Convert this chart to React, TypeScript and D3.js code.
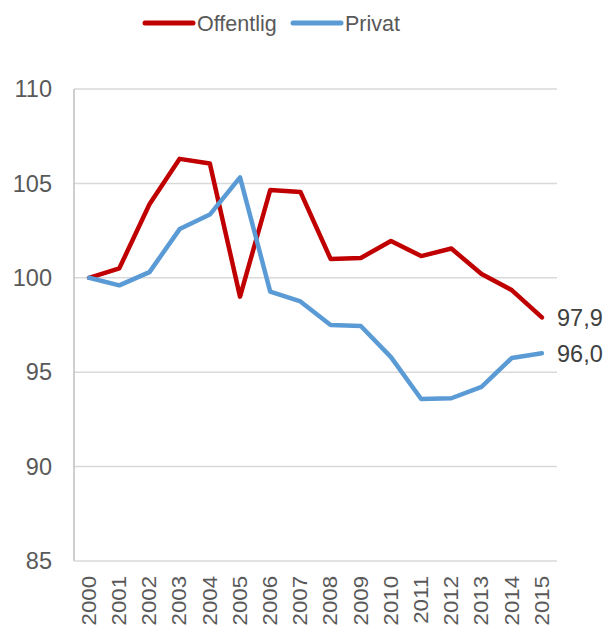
import React, { useEffect, useRef } from 'react';
import * as d3 from 'd3';

const years = ['2000', '2001', '2002', '2003', '2004', '2005', '2006', '2007', '2008', '2009', '2010', '2011', '2012', '2013', '2014', '2015'];
const offentlig = [100, 100.5, 103.9, 106.3, 106.05, 99.0, 104.65, 104.55, 101.0, 101.05, 101.95, 101.15, 101.55, 100.2, 99.35, 97.9];
const privat = [100, 99.6, 100.3, 102.58, 103.35, 105.32, 99.27, 98.75, 97.5, 97.45, 95.8, 93.58, 93.62, 94.22, 95.75, 96.0];
const yTicks = [85, 90, 95, 100, 105, 110];

const App = () => {
  const svgRef = useRef<SVGSVGElement>(null);

  useEffect(() => {
    const svg = d3.select(svgRef.current);
    svg.selectAll('*').remove();

    const width = 605;
    const height = 626;
    const margin = { top: 89, right: 48, bottom: 65, left: 74 };
    const font = 'Liberation Sans, Arial, sans-serif';

    const x = d3.scaleBand()
      .domain(years)
      .range([margin.left, width - margin.right]);

    const y = d3.scaleLinear()
      .domain([85, 110])
      .range([height - margin.bottom, margin.top]);

    // gridlines
    svg.append('g')
      .selectAll('line')
      .data(yTicks.filter(d => d !== 85))
      .enter()
      .append('line')
      .attr('x1', margin.left)
      .attr('x2', width - margin.right)
      .attr('y1', d => y(d))
      .attr('y2', d => y(d))
      .attr('stroke', '#d9d9d9')
      .attr('stroke-width', 1.5);

    // axes lines
    svg.append('line')
      .attr('x1', margin.left).attr('x2', margin.left)
      .attr('y1', y(110)).attr('y2', y(85))
      .attr('stroke', '#bfbfbf').attr('stroke-width', 1.5);
    svg.append('line')
      .attr('x1', margin.left).attr('x2', width - margin.right)
      .attr('y1', y(85)).attr('y2', y(85))
      .attr('stroke', '#d9d9d9').attr('stroke-width', 1.5);

    // y tick labels
    svg.append('g')
      .selectAll('text')
      .data(yTicks)
      .enter()
      .append('text')
      .attr('x', 52)
      .attr('y', d => y(d))
      .attr('dy', '0.35em')
      .attr('text-anchor', 'end')
      .attr('font-family', font)
      .attr('font-size', 23.5)
      .attr('fill', '#595959')
      .text(d => d);

    // x tick labels (rotated, a bit stretched along the text like the original)
    svg.append('g')
      .selectAll('text')
      .data(years)
      .enter()
      .append('text')
      .attr('transform', d => `translate(${x(d)! + x.bandwidth() / 2},576) rotate(-90) scale(1.14,1)`)
      .attr('dy', '0.35em')
      .attr('text-anchor', 'end')
      .attr('font-family', font)
      .attr('font-size', 19.5)
      .attr('fill', '#595959')
      .text(d => d);

    const line = d3.line<number>()
      .x((d, i) => x(years[i])! + x.bandwidth() / 2)
      .y(d => y(d));

    const series = [
      { name: 'Offentlig', values: offentlig, color: '#c00000' },
      { name: 'Privat', values: privat, color: '#5b9bd5' },
    ];

    series.forEach(s => {
      svg.append('path')
        .datum(s.values)
        .attr('d', line)
        .attr('fill', 'none')
        .attr('stroke', s.color)
        .attr('stroke-width', 4.5)
        .attr('stroke-linejoin', 'round')
        .attr('stroke-linecap', 'round');

      const last = s.values[s.values.length - 1];
      svg.append('text')
        .attr('x', 557)
        .attr('y', y(last))
        .attr('dy', '0.35em')
        .attr('font-family', font)
        .attr('font-size', 23.5)
        .attr('fill', '#404040')
        .text(d3.format('.1f')(last).replace('.', ','));
    });

    // legend
    const legendX = [145, 293];
    series.forEach((s, i) => {
      const g = svg.append('g').attr('transform', `translate(${legendX[i]},23)`);
      g.append('line')
        .attr('x1', 0).attr('x2', 48)
        .attr('y1', 0).attr('y2', 0)
        .attr('stroke', s.color)
        .attr('stroke-width', 5)
        .attr('stroke-linecap', 'round');
      g.append('text')
        .attr('x', 52)
        .attr('y', 0)
        .attr('dy', '0.35em')
        .attr('font-family', font)
        .attr('font-size', 21.5)
        .attr('fill', '#595959')
        .text(s.name);
    });
  }, []);

  return <svg ref={svgRef} width={605} height={626} style={{ position: 'absolute', left: 0, top: 0 }}></svg>;
};

export default App;
